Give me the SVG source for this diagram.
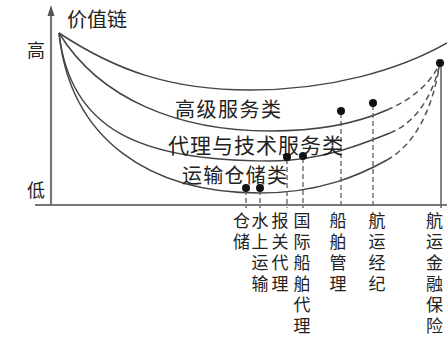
<svg xmlns="http://www.w3.org/2000/svg" width="447" height="342" viewBox="0 0 447 342">
<style>
.t{font-family:"Noto Sans CJK SC","Liberation Sans",sans-serif;fill:#222}
.c{fill:none;stroke:#444;stroke-width:1.5}
.d{fill:none;stroke:#555;stroke-width:1.5;stroke-dasharray:6 4}
.v{fill:none;stroke:#666;stroke-width:1.4;stroke-dasharray:5 3}
.ax{fill:none;stroke:#777;stroke-width:2.2}
.dot{fill:#111}
.lb{font-size:17px;writing-mode:vertical-rl;letter-spacing:4px}
</style>
<rect width="447" height="342" fill="#fff"/>
<g id="axes">
<line class="ax" x1="51" y1="14" x2="51" y2="205"/>
<polygon points="51,5 47.5,16 54.5,16" fill="#555"/>
<line class="ax" x1="35" y1="205" x2="447" y2="205"/>
<text class="t" x="67" y="27" font-size="20">价值链</text>
<text class="t" x="27" y="57" font-size="18">高</text>
<text class="t" x="27" y="197" font-size="18">低</text>
</g>
<g id="connectors">
<path id="curve1" class="c" d="M59,33 C115,70 170,90 250,90 C330,90 400,70 447,43"/>
<path id="curve2" class="c" d="M59,33 C100,100 180,131 270,131 C320,131 360,122 387,110"/>
<path id="curve2-dash" class="d" d="M387,110 C410,100 430,85 440,63"/>
<path id="curve3" class="c" d="M59,33 C70,130 140,161 270,161 C320,161 360,145 390,133"/>
<path id="curve3-dash" class="d" d="M390,133 C410,125 430,105 440,64"/>
<path id="curve4" class="c" d="M59,33 C70,140 150,193 260,193 C320,193 360,175 387,160"/>
<path id="curve4-dash" class="d" d="M387,160 C412,146 432,115 440,62"/>
<line class="v" x1="246" y1="190" x2="246" y2="208"/>
<line class="v" x1="260" y1="190" x2="260" y2="208"/>
<line class="v" x1="287" y1="159" x2="287" y2="208"/>
<line class="v" x1="303" y1="158" x2="303" y2="208"/>
<line class="v" x1="341" y1="113" x2="341" y2="208"/>
<line class="v" x1="373" y1="105" x2="373" y2="208"/>
<line x1="441" y1="63" x2="441" y2="208" stroke="#666" stroke-width="1.6"/>
</g>
<g id="bands">
<text class="t" x="175" y="117" font-size="20" textLength="106">高级服务类</text>
<text class="t" x="168" y="153" font-size="21" textLength="175">代理与技术服务类</text>
<text class="t" x="182" y="183" font-size="20" textLength="105">运输仓储类</text>
</g>
<g id="dots">
<circle class="dot" cx="246" cy="188" r="4"/>
<circle class="dot" cx="260" cy="188" r="4"/>
<circle class="dot" cx="287" cy="157" r="4"/>
<circle class="dot" cx="303" cy="156" r="4"/>
<circle class="dot" cx="341" cy="111" r="4"/>
<circle class="dot" cx="373" cy="103" r="4"/>
<circle class="dot" cx="440" cy="63" r="4"/>
</g>
<g id="label-cangchu"><text class="t lb" x="241.5" y="212">仓储</text></g>
<g id="label-shuishang"><text class="t lb" x="260" y="212">水上运输</text></g>
<g id="label-baoguan"><text class="t lb" x="280" y="212">报关代理</text></g>
<g id="label-guoji"><text class="t lb" x="302" y="212">国际船舶代理</text></g>
<g id="label-chuanbo"><text class="t lb" x="338" y="212">船舶管理</text></g>
<g id="label-hangyunjingji"><text class="t lb" x="377" y="212">航运经纪</text></g>
<g id="label-jinrong"><text class="t lb" x="434.5" y="212">航运金融保险</text></g>
</svg>
